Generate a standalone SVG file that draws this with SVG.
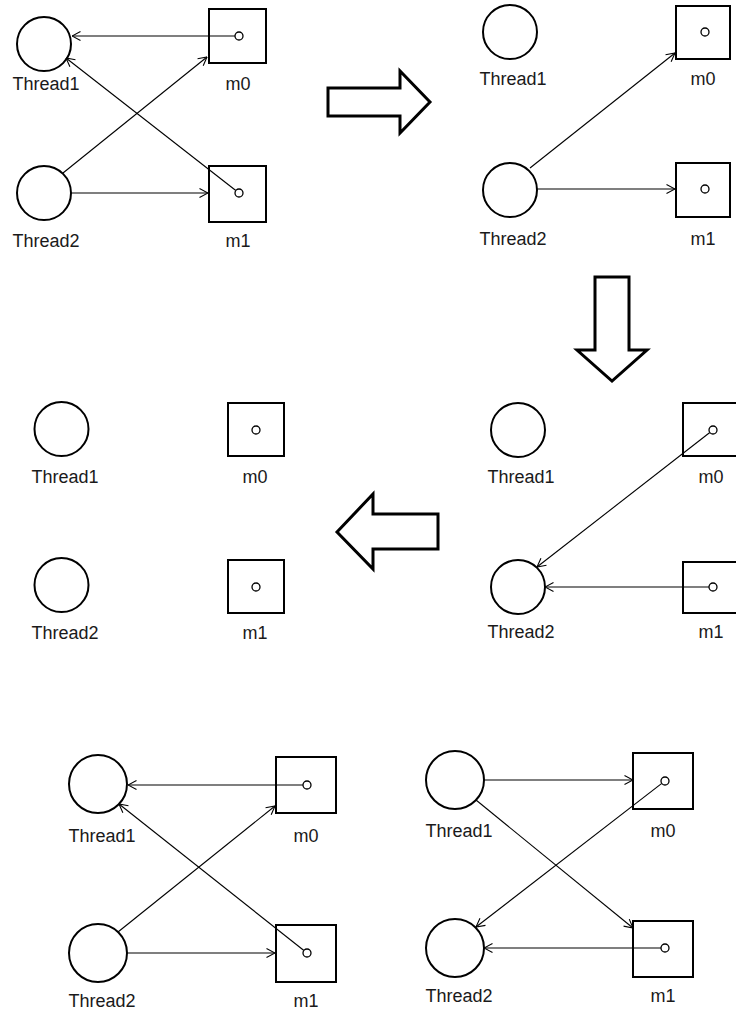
<svg xmlns="http://www.w3.org/2000/svg" width="736" height="1013" viewBox="0 0 736 1013">
  <style>
    .thread { fill: none; stroke: #000; stroke-width: 2; }
    .mutex { fill: none; stroke: #000; stroke-width: 2; }
    .dot { fill: #fff; stroke: #000; stroke-width: 1.3; }
    .lbl { font-family: "Liberation Sans", Arial, sans-serif; font-size: 18px; fill: #1a1a1a; text-anchor: middle; }
    .edge { fill: none; stroke: #000; stroke-width: 1.1; marker-end: url(#open); }
    .step { fill: #fff; stroke: #000; stroke-width: 3; stroke-linejoin: miter; }
  </style>
  <defs>
    <marker id="open" viewBox="0 0 10 10" refX="9.5" refY="5" markerWidth="10" markerHeight="10" markerUnits="userSpaceOnUse" orient="auto">
      <path d="M1,0.5 L9.5,5 L1,9.5" fill="none" stroke="#000" stroke-width="1.1"/>
    </marker>
  </defs>
  <rect width="736" height="1013" fill="#fff"/>

  <!-- connectors -->
  <g id="connectors">
    <!-- state 1 -->
    <line class="edge" x1="235" y1="36" x2="72" y2="36"/>
    <line class="edge" x1="235.8" y1="190.5" x2="66" y2="58"/>
    <line class="edge" x1="63" y1="173" x2="207" y2="57"/>
    <line class="edge" x1="71" y1="193" x2="208" y2="193"/>
    <!-- state 2 -->
    <line class="edge" x1="530" y1="168" x2="675" y2="53"/>
    <line class="edge" x1="537" y1="189" x2="675" y2="189"/>
    <!-- state 4 -->
    <line class="edge" x1="709.8" y1="432.5" x2="537" y2="567"/>
    <line class="edge" x1="709" y1="587" x2="545" y2="587"/>
    <!-- state 5 -->
    <line class="edge" x1="303" y1="785" x2="128" y2="785"/>
    <line class="edge" x1="303.9" y1="950.5" x2="119" y2="804"/>
    <line class="edge" x1="118" y1="932" x2="275" y2="806"/>
    <line class="edge" x1="127" y1="953" x2="275" y2="953"/>
    <!-- state 6 -->
    <line class="edge" x1="484" y1="780" x2="633" y2="780"/>
    <line class="edge" x1="476" y1="800" x2="633" y2="928"/>
    <line class="edge" x1="661.8" y1="783.4" x2="476" y2="927"/>
    <line class="edge" x1="661" y1="948" x2="484" y2="948"/>
  </g>

  <!-- transition arrows -->
  <g id="step-right"><polygon class="step" points="328,88 400,88 400,71 430,102 400,133 400,116 328,116"/></g>
  <g id="step-down"><polygon class="step" points="595,277 629,277 629,350 647,350 612,381 577,350 595,350"/></g>
  <g id="step-left"><polygon class="step" points="337,532 373,494 373,514 438,514 438,549 373,549 373,569"/></g>

  <!-- state 1 -->
  <g id="s1-thread1"><circle class="thread" cx="44" cy="44" r="27"/><text class="lbl" x="46" y="90">Thread1</text></g>
  <g id="s1-thread2"><circle class="thread" cx="44" cy="193" r="27"/><text class="lbl" x="46" y="247">Thread2</text></g>
  <g id="s1-m0"><rect class="mutex" x="209" y="9" width="57" height="54"/><circle class="dot" cx="239" cy="36" r="4"/><text class="lbl" x="238" y="90">m0</text></g>
  <g id="s1-m1"><rect class="mutex" x="209" y="166" width="57" height="56"/><circle class="dot" cx="239" cy="193" r="4"/><text class="lbl" x="238" y="247">m1</text></g>

  <!-- state 2 -->
  <g id="s2-thread1"><circle class="thread" cx="510" cy="32" r="27"/><text class="lbl" x="513" y="85">Thread1</text></g>
  <g id="s2-thread2"><circle class="thread" cx="510" cy="190" r="27"/><text class="lbl" x="513" y="245">Thread2</text></g>
  <g id="s2-m0"><rect class="mutex" x="676" y="6" width="54" height="53"/><circle class="dot" cx="705" cy="32" r="4"/><text class="lbl" x="703" y="85">m0</text></g>
  <g id="s2-m1"><rect class="mutex" x="676" y="163" width="54" height="54"/><circle class="dot" cx="705" cy="189" r="4"/><text class="lbl" x="703" y="245">m1</text></g>

  <!-- state 3 -->
  <g id="s3-thread1"><circle class="thread" cx="61.5" cy="429" r="27"/><text class="lbl" x="65" y="483">Thread1</text></g>
  <g id="s3-thread2"><circle class="thread" cx="61.5" cy="585" r="27"/><text class="lbl" x="65" y="639">Thread2</text></g>
  <g id="s3-m0"><rect class="mutex" x="228" y="403" width="56" height="53"/><circle class="dot" cx="256" cy="430" r="4"/><text class="lbl" x="255" y="483">m0</text></g>
  <g id="s3-m1"><rect class="mutex" x="228" y="560" width="56" height="53"/><circle class="dot" cx="256" cy="587" r="4"/><text class="lbl" x="255" y="639">m1</text></g>

  <!-- state 4 -->
  <g id="s4-thread1"><circle class="thread" cx="518" cy="430" r="27"/><text class="lbl" x="521" y="483">Thread1</text></g>
  <g id="s4-thread2"><circle class="thread" cx="518" cy="587" r="27"/><text class="lbl" x="521" y="638">Thread2</text></g>
  <g id="s4-m0"><rect class="mutex" x="683" y="403" width="56" height="53"/><circle class="dot" cx="713" cy="430" r="4"/><text class="lbl" x="711" y="483">m0</text></g>
  <g id="s4-m1"><rect class="mutex" x="683" y="562" width="56" height="51"/><circle class="dot" cx="713" cy="587" r="4"/><text class="lbl" x="711" y="638">m1</text></g>

  <!-- state 5 -->
  <g id="s5-thread1"><circle class="thread" cx="98" cy="784" r="29"/><text class="lbl" x="102" y="842">Thread1</text></g>
  <g id="s5-thread2"><circle class="thread" cx="98" cy="953" r="29"/><text class="lbl" x="102" y="1007">Thread2</text></g>
  <g id="s5-m0"><rect class="mutex" x="276" y="757" width="60" height="56"/><circle class="dot" cx="307" cy="785" r="4"/><text class="lbl" x="306" y="842">m0</text></g>
  <g id="s5-m1"><rect class="mutex" x="276" y="925" width="60" height="57"/><circle class="dot" cx="307" cy="953" r="4"/><text class="lbl" x="306" y="1007">m1</text></g>

  <!-- state 6 -->
  <g id="s6-thread1"><circle class="thread" cx="455" cy="780" r="29"/><text class="lbl" x="459" y="837">Thread1</text></g>
  <g id="s6-thread2"><circle class="thread" cx="455" cy="948" r="29"/><text class="lbl" x="459" y="1002">Thread2</text></g>
  <g id="s6-m0"><rect class="mutex" x="633" y="753" width="60" height="56"/><circle class="dot" cx="665" cy="781" r="4"/><text class="lbl" x="663" y="837">m0</text></g>
  <g id="s6-m1"><rect class="mutex" x="633" y="921" width="60" height="56"/><circle class="dot" cx="665" cy="948" r="4"/><text class="lbl" x="663" y="1002">m1</text></g>
</svg>
